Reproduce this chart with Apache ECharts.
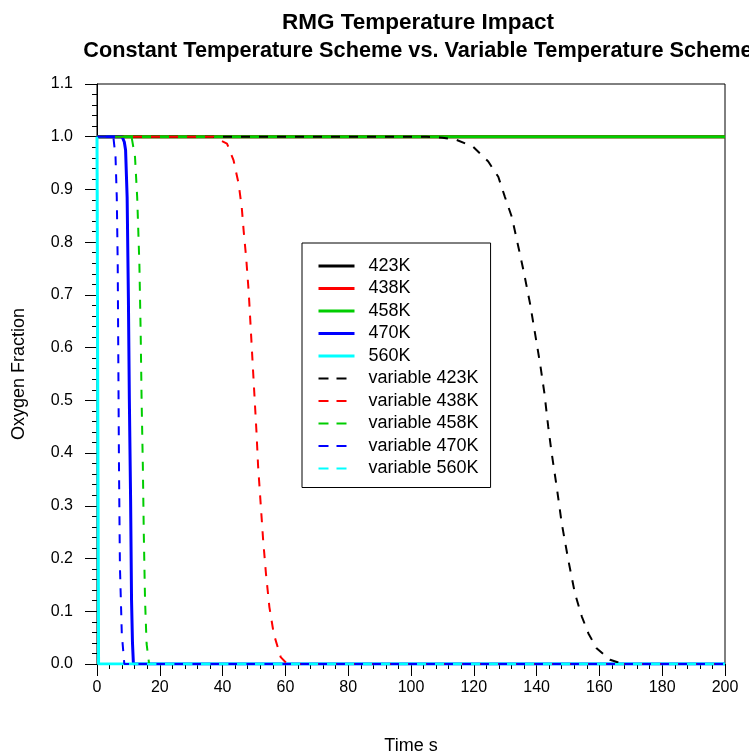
<!DOCTYPE html>
<html>
<head>
<meta charset="utf-8">
<script src="https://cdn.jsdelivr.net/npm/echarts@6/dist/echarts.min.js"></script>
<style>html,body{margin:0;padding:0;background:#fff;}#c{width:749px;height:754px;}</style>
</head>
<body>
<div id="c"></div>
<script>
// Data (time in s, oxygen fraction)
const seriesNames = ['423K','438K','458K','470K','560K','variable 423K','variable 438K','variable 458K','variable 470K','variable 560K'];
const s423 = [[0,1],[200,1]];
const s438 = [[0,1],[200,1]];
const s458 = [[0,1],[200,1]];
const s470 = [[0,1],[8.0,1],[8.7,0.99],[9.1,0.975],[9.6,0.885],[10.0,0.694],[10.3,0.503],[10.7,0.312],[11.0,0.121],[11.3,0.04],[11.6,0],[200,0]];
const s560 = [[0,1],[0.3,1],[0.5,0],[200,0]];
const v423 = [[0,1],[105,1],[110,0.998],[114.5,0.994],[119.8,0.981],[124.6,0.953],[127.8,0.924],[129.9,0.886],[132.1,0.848],[134.2,0.791],[135.8,0.747],[137.9,0.684],[139.5,0.627],[141.1,0.570],[142.5,0.513],[143.7,0.450],[144.8,0.400],[146.4,0.336],[148.0,0.267],[150.1,0.197],[152.2,0.134],[154.4,0.090],[156.5,0.058],[159.1,0.030],[163.4,0.008],[167.6,0],[200,0]];
const v438 = [[0,1],[37.1,1],[41.4,0.987],[43.5,0.955],[45.1,0.911],[46.1,0.866],[46.7,0.822],[47.5,0.771],[48.3,0.707],[48.9,0.643],[49.6,0.567],[50.2,0.503],[50.8,0.439],[51.3,0.376],[52.1,0.306],[52.9,0.236],[53.8,0.172],[54.9,0.108],[56.3,0.057],[58.5,0.013],[60.6,0],[200,0]];
const v458 = [[0,1],[11.0,1],[12.1,0.962],[12.8,0.885],[13.5,0.758],[13.9,0.631],[14.2,0.503],[14.6,0.376],[14.9,0.248],[15.3,0.121],[15.8,0.038],[16.6,0],[200,0]];
const v470 = [[0,1],[5.2,1],[5.9,0.962],[6.3,0.885],[6.6,0.758],[6.8,0.567],[7.0,0.376],[7.3,0.185],[7.9,0.057],[8.7,0],[200,0]];
const v560 = [[0,1],[0.3,1],[0.4,0],[200,0]];
const xTicks = [0,20,40,60,80,100,120,140,160,180,200];
const yTicks = [0,0.1,0.2,0.3,0.4,0.5,0.6,0.7,0.8,0.9,1.0,1.1];

const colors = ['#000000','#ff0000','#00cd00','#0000ff','#00ffff'];
const allData = [s423,s438,s458,s470,s560,v423,v438,v458,v470,v560];
const FONT = 'Liberation Sans';
const DASH = [9,9];

const series = allData.map((d,i)=>{
  const dashed = i>=5;
  return {
    name: seriesNames[i],
    type: 'line',
    data: d,
    showSymbol: false,
    symbol: 'none',
    smooth: false,
    animation: false,
    z: 2 + i,
    lineStyle: {color: colors[i%5], width: dashed ? 2 : 3, type: dashed ? DASH : 'solid'},
    itemStyle: {color: colors[i%5]}
  };
});

const legendData = seriesNames.map((n,i)=>({
  name: n,
  itemStyle: {color: 'rgba(0,0,0,0)', borderColor: 'rgba(0,0,0,0)', borderWidth: 0},
  lineStyle: {color: colors[i%5], width: i>=5 ? 2 : 3, type: i>=5 ? [10,8] : 'solid'}
}));

const chart = echarts.init(document.getElementById('c'), null, {renderer:'canvas'});
chart.setOption({
  animation: false,
  backgroundColor: '#ffffff',
  title: {
    text: '{a|RMG Temperature Impact}\n{b|Constant Temperature Scheme vs. Variable Temperature Scheme}',
    left: 413, top: 3, textAlign: 'center',
    textStyle: {
      fontFamily: FONT, fontWeight: 'bold', color: '#000',
      rich: {
        a: {fontFamily: FONT, fontWeight: 'bold', fontSize: 22.5, lineHeight: 29, color: '#000'},
        b: {fontFamily: FONT, fontWeight: 'bold', fontSize: 21.7, lineHeight: 29, color: '#000'}
      }
    }
  },
  grid: {left: 97, right: 24, top: 84, bottom: 90, show: true, borderColor: '#000', borderWidth: 1,
         backgroundColor: 'transparent', containLabel: false, outerBoundsMode: 'none'},
  legend: {
    orient: 'vertical', left: 302, top: 243,
    data: legendData,
    itemWidth: 36, itemHeight: 14, itemGap: 4.5,
    padding: [14, 12, 10, 15],
    borderColor: '#000', borderWidth: 1, backgroundColor: '#fff',
    textStyle: {fontFamily: FONT, fontSize: 18, color: '#000', padding: [0,0,0,9]}
  },
  xAxis: {
    type: 'value', min: 0, max: 200, interval: 20,
    name: 'Time s', nameLocation: 'middle', nameGap: 73,
    nameTextStyle: {fontFamily: FONT, fontSize: 18, color: '#000'},
    axisLine: {show: true, onZero: false, lineStyle: {color: '#000', width: 1}},
    axisTick: {show: true, inside: false, length: 12, lineStyle: {color: '#000'}},
    minorTick: {show: true, splitNumber: 5, length: 5, lineStyle: {color: '#000'}},
    splitLine: {show: false},
    axisLabel: {fontFamily: FONT, fontSize: 16, color: '#000', margin: 16,
      formatter: v => xTicks.indexOf(v) >= 0 ? String(v) : ''}
  },
  yAxis: {
    type: 'value', min: 0, max: 1.1, interval: 0.1,
    name: 'Oxygen Fraction', nameLocation: 'middle', nameGap: 69, nameRotate: 90,
    nameTextStyle: {fontFamily: FONT, fontSize: 18, color: '#000'},
    axisLine: {show: true, onZero: false, lineStyle: {color: '#000', width: 1}},
    axisTick: {show: true, inside: false, length: 12, lineStyle: {color: '#000'}},
    minorTick: {show: true, splitNumber: 5, length: 5, lineStyle: {color: '#000'}},
    splitLine: {show: false},
    axisLabel: {fontFamily: FONT, fontSize: 16, color: '#000', margin: 24,
      formatter: v => {
        const m = yTicks.find(t => Math.abs(t - v) < 1e-9);
        return m === undefined ? '' : m.toFixed(1);
      }}
  },
  series: series
});
</script>
</body>
</html>
